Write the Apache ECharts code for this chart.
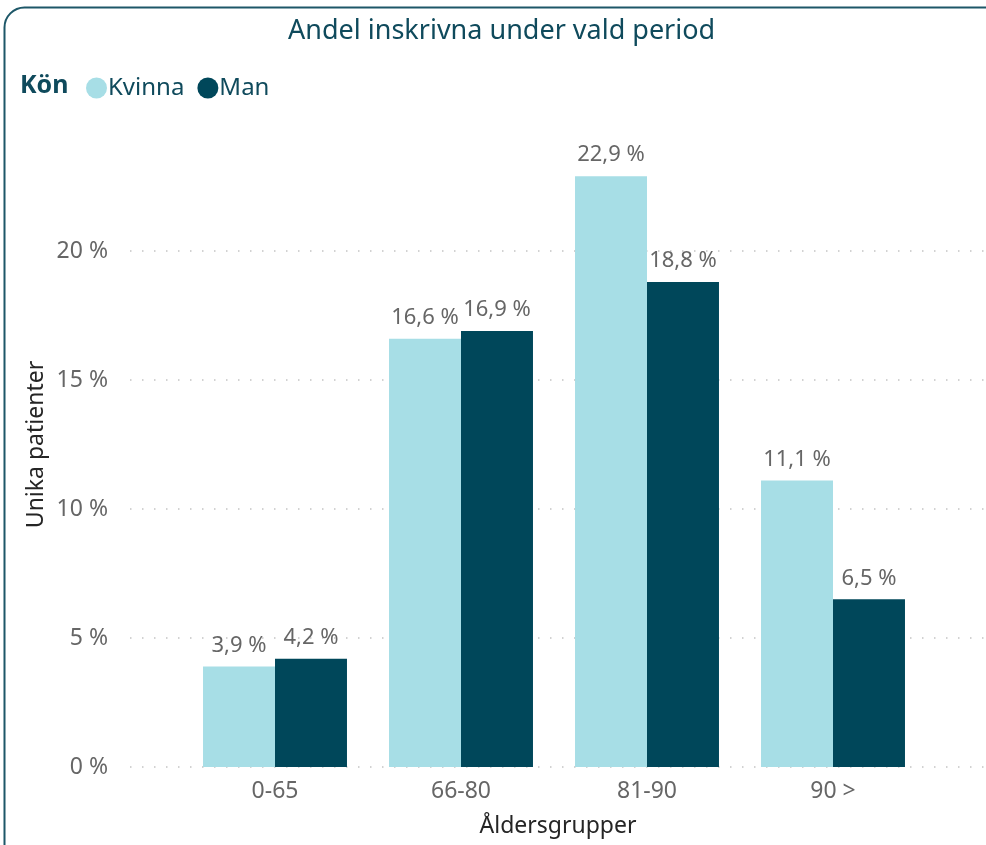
<!DOCTYPE html>
<html>
<head>
<meta charset="utf-8">
<script src="https://cdn.jsdelivr.net/npm/echarts@6/dist/echarts.min.js"></script>
<style>
html,body{margin:0;padding:0;background:#fff;}
#c{width:986px;height:845px;}
</style>
</head>
<body>
<div id="c"></div>
<script>
const categories = ['0-65', '66-80', '81-90', '90 >'];
const kvinna = [3.9, 16.6, 22.9, 11.1];
const man = [4.2, 16.9, 18.8, 6.5];
const yTicks = [0, 5, 10, 15, 20];

const FONT = '"Noto Sans", "Open Sans", sans-serif';
const TEAL = '#0f4a5c';
const fmt = v => v.toFixed(1).replace('.', ',') + ' %';

const chart = echarts.init(document.getElementById('c'));
chart.setOption({
  animation: false,
  textStyle: { fontFamily: FONT },
  title: {
    text: 'Andel inskrivna under vald period',
    left: 283, top: 13,
    textStyle: { color: TEAL, fontSize: 27, fontWeight: 'normal', fontFamily: FONT }
  },
  legend: {
    left: 81, top: 71, icon: 'circle', itemWidth: 21, itemHeight: 21, itemGap: 13,
    textStyle: { color: TEAL, fontSize: 24, fontFamily: FONT, padding: [0, 0, 0, -4] },
    data: ['Kvinna', 'Man']
  },
  graphic: [
    { type: 'rect', left: 2, top: 5, shape: { width: 1010, height: 870, r: 20 },
      style: { fill: 'none', stroke: '#1d5768', lineWidth: 2 }, z: 0 },
    { type: 'text', left: 20, top: 73,
      style: { text: 'Kön', fill: TEAL, font: 'bold 25px "Noto Sans", sans-serif' } }
  ],
  grid: [
    { left: 130, right: 0, top: 251, bottom: 78 },
    { left: 182, right: 60, top: 122, bottom: 78 }
  ],
  xAxis: [
    { gridIndex: 0, type: 'category', data: categories, show: false },
    { gridIndex: 1, type: 'category', data: categories,
      axisLine: { show: false }, axisTick: { show: false },
      axisLabel: { color: '#666', fontSize: 23, margin: 13, fontFamily: FONT },
      name: 'Åldersgrupper', nameLocation: 'middle', nameGap: 48,
      nameTextStyle: { color: '#252525', fontSize: 23, fontFamily: FONT, padding: [0, 0, 0, 8] } }
  ],
  yAxis: [
    { gridIndex: 0, type: 'value', min: yTicks[0], max: yTicks[yTicks.length - 1], interval: 5,
      axisLine: { show: false }, axisTick: { show: false },
      axisLabel: { color: '#666', fontSize: 23, margin: 22, formatter: v => v + ' %', fontFamily: FONT },
      splitLine: { show: true, lineStyle: { color: '#c4c4c4', width: 1.5, type: [1.5, 10.5] } } },
    { gridIndex: 1, type: 'value', min: 0, max: 25,
      axisLine: { show: false }, axisTick: { show: false }, axisLabel: { show: false },
      splitLine: { show: false },
      name: 'Unika patienter', nameLocation: 'middle', nameGap: 134, nameRotate: 90,
      nameTextStyle: { color: '#252525', fontSize: 23, fontFamily: FONT } }
  ],
  series: [
    { name: 'Kvinna', type: 'bar', xAxisIndex: 1, yAxisIndex: 1, data: kvinna,
      barGap: '0%', barCategoryGap: '22.6%', itemStyle: { color: '#a7dee6' },
      label: { show: true, position: 'top', distance: 10, color: '#666', fontSize: 22, formatter: p => fmt(p.value), fontFamily: FONT } },
    { name: 'Man', type: 'bar', xAxisIndex: 1, yAxisIndex: 1, data: man,
      barGap: '0%', barCategoryGap: '22.6%', itemStyle: { color: '#00475a' },
      label: { show: true, position: 'top', distance: 10, color: '#666', fontSize: 22, formatter: p => fmt(p.value), fontFamily: FONT } }
  ]
});
</script>
</body>
</html>
